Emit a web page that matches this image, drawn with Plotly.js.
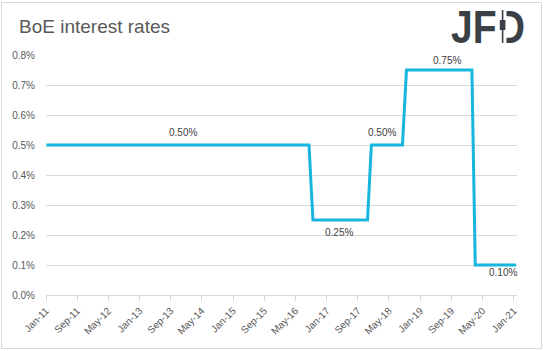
<!DOCTYPE html>
<html>
<head>
<meta charset="utf-8">
<script src="https://cdn.plot.ly/plotly-3.0.1.min.js"></script>
<style>
  html, body { margin: 0; padding: 0; background: #fff; }
  #wrap { position: relative; width: 544px; height: 351px; overflow: hidden; }
  #chart { width: 544px; height: 351px; }
  #frame { position: absolute; left: 1px; top: 2px; width: 539px; height: 345px;
           border: 1px solid #d9d9d9; pointer-events: none; }
  #logo { position: absolute; left: 451px; top: 4px; font-family: "Liberation Sans", Arial, sans-serif;
          font-weight: bold; font-size: 46px; line-height: 46px; color: #3b4046;
          transform: scaleX(0.85); transform-origin: 0 0; white-space: nowrap; pointer-events: none; }
  #candle { position: absolute; left: 0; top: 0; pointer-events: none; }
</style>
</head>
<body>
<div id="wrap">
  <div id="chart"></div>
  <div id="logo">JFD</div>
  <svg id="candle" width="544" height="60">
    <rect x="498" y="7" width="8.5" height="39" fill="#ffffff"></rect>
    <rect x="501.8" y="10" width="1.6" height="33" fill="#3b4046"></rect>
    <rect x="499.8" y="20" width="5.6" height="10" fill="#3b4046"></rect>
  </svg>
  <div id="frame"></div>
</div>
<script>
// Bank Rate (%), change points
const dates = ["2011-01-04", "2016-08-15", "2016-09-15", "2017-11-15", "2017-12-15",
               "2018-08-15", "2018-09-15", "2020-02-08", "2020-03-05", "2021-01-18"];
const rates = [0.5, 0.5, 0.25, 0.25, 0.5, 0.5, 0.75, 0.75, 0.1, 0.1];

// x tick labels
const tickDates = ["2011-01-01", "2011-09-01", "2012-05-01", "2013-01-01", "2013-09-01",
                   "2014-05-01", "2015-01-01", "2015-09-01", "2016-05-01", "2017-01-01",
                   "2017-09-01", "2018-05-01", "2019-01-01", "2019-09-01", "2020-05-01",
                   "2021-01-01"];
const tickLabels = ["Jan-11", "Sep-11", "May-12", "Jan-13", "Sep-13", "May-14", "Jan-15",
                    "Sep-15", "May-16", "Jan-17", "Sep-17", "May-18", "Jan-19", "Sep-19",
                    "May-20", "Jan-21"];

// data labels
const labelDates = ["2013-12-05", "2017-04-07", "2018-03-07", "2019-07-28", "2020-10-04"];
const labelValues = [0.5, 0.25, 0.5, 0.75, 0.1];
const labelTexts = ["0.50%", "0.25%", "0.50%", "0.75%", "0.10%"];
const labelShift = [13, -12, 13, 10, -7];

const L = 46, T = 55, W = 471, H = 240;
const px = x => (x - L) / W;
const py = y => (T + H - y) / H;

const trace = {
  x: dates, y: rates, type: "scatter", mode: "lines",
  line: { color: "#17b6de", width: 3, shape: "linear" },
  hoverinfo: "skip"
};

const annotations = labelTexts.map((t, i) => ({
  x: labelDates[i], y: labelValues[i], xref: "x", yref: "y",
  text: t, showarrow: false, yshift: labelShift[i],
  xanchor: "center", yanchor: "middle",
  font: { family: "Liberation Sans, Arial, sans-serif", size: 10, color: "#404040" }
}));

annotations.push({
  xref: "paper", yref: "paper", x: px(17), y: py(27), xanchor: "left", yanchor: "middle",
  text: "BoE interest rates", showarrow: false,
  font: { family: "Liberation Sans, Arial, sans-serif", size: 19, color: "#595959" }
});

const layout = {
  width: 544, height: 351,
  margin: { l: L, r: 544 - L - W, t: T, b: 351 - T - H, pad: 0 },
  paper_bgcolor: "rgba(0,0,0,0)", plot_bgcolor: "rgba(0,0,0,0)",
  showlegend: false,
  xaxis: {
    type: "date", range: ["2011-01-01", "2021-01-25"],
    tickmode: "array", tickvals: tickDates, ticktext: tickLabels,
    tickangle: -45, ticks: "outside", ticklen: 5, tickcolor: "#d9d9d9",
    showline: true, linecolor: "#d9d9d9", linewidth: 1,
    showgrid: false, zeroline: false,
    tickfont: { family: "Liberation Sans, Arial, sans-serif", size: 10, color: "#595959" }
  },
  yaxis: {
    range: [0, 0.8], tickmode: "linear", tick0: 0, dtick: 0.1,
    tickformat: ".1f", ticksuffix: "%",
    showgrid: true, gridcolor: "#d9d9d9", gridwidth: 1,
    zeroline: false, showline: false, ticks: "", ticklabelstandoff: 10,
    tickfont: { family: "Liberation Sans, Arial, sans-serif", size: 10, color: "#595959" }
  },
  annotations: annotations
};

Plotly.newPlot("chart", [trace], layout, { displayModeBar: false, staticPlot: true });
</script>
</body>
</html>
